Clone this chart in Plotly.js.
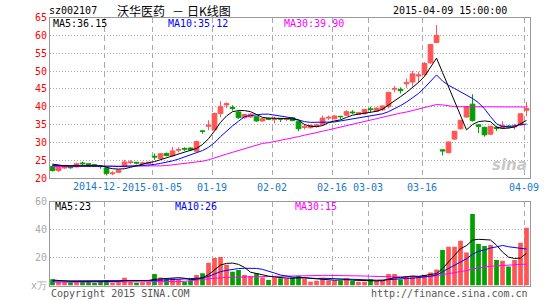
<!DOCTYPE html>
<html><head><meta charset="utf-8">
<script src="https://cdn.plot.ly/plotly-3.0.1.min.js"></script>
<style>html,body{margin:0;padding:0;background:#fff}#chart{width:545px;height:300px}</style>
</head><body><div id="chart"></div>
<script>
const dates = ['2014-12-09','2014-12-10','2014-12-11','2014-12-12','2014-12-15','2014-12-16','2014-12-17','2014-12-18','2014-12-19','2014-12-22','2014-12-23','2014-12-24','2014-12-25','2014-12-26','2014-12-29','2014-12-30','2014-12-31','2015-01-05','2015-01-06','2015-01-07','2015-01-08','2015-01-09','2015-01-12','2015-01-13','2015-01-14','2015-01-15','2015-01-16','2015-01-19','2015-01-20','2015-01-21','2015-01-22','2015-01-23','2015-01-26','2015-01-27','2015-01-28','2015-01-29','2015-01-30','2015-02-02','2015-02-03','2015-02-04','2015-02-05','2015-02-06','2015-02-09','2015-02-10','2015-02-11','2015-02-12','2015-02-13','2015-02-16','2015-02-17','2015-02-25','2015-02-26','2015-02-27','2015-03-02','2015-03-03','2015-03-04','2015-03-05','2015-03-06','2015-03-09','2015-03-10','2015-03-11','2015-03-12','2015-03-13','2015-03-16','2015-03-17','2015-03-18','2015-03-19','2015-03-20','2015-03-23','2015-03-24','2015-03-25','2015-03-26','2015-03-27','2015-03-30','2015-03-31','2015-04-01','2015-04-02','2015-04-03','2015-04-07','2015-04-08','2015-04-09'];
const open = [23.2,22.1,22.8,23.1,23.1,24.2,24.0,23.7,23.4,22.8, 21.2,21.6,23.2,24.3,24.4,24.0,24.1,26.1,25.5,26.9, 26.2,27.8,28.3,28.4,27.5,33.2,34.5,33.5,38.1,40.5, 39.8,38.5,36.9,37.1,37.2,36.0,36.7,36.4,36.7,36.4, 36.9,35.8,34.2,34.1,34.4,34.9,36.8,36.6,37.3,37.6, 38.5,37.9,38.0,39.4,38.7,39.1,40.0,44.9,44.8,46.4, 46.9,48.6,49.0,52.3,58.0,27.9,27.1,30.9,33.8,37.1, 40.7,34.9,34.2,32.3,34.2,33.9,34.5,34.3,34.9,39.0];
const high = [23.8,23.2,23.3,23.3,24.3,24.6,24.1,23.8,23.6,23.0, 21.9,22.4,25.1,25.0,24.5,24.6,24.5,26.9,27.0,27.1, 28.7,28.6,28.6,28.6,30.5,33.3,36.2,38.3,41.5,41.2, 40.4,38.8,38.0,38.2,37.3,36.9,36.9,37.2,36.8,37.0, 37.0,35.9,35.1,35.0,35.2,37.5,37.5,37.6,37.4,39.0, 39.0,38.4,39.4,40.0,39.8,40.3,44.2,45.8,45.4,47.9, 50.0,49.8,52.5,57.6,62.9,28.0,30.2,33.2,36.3,40.2, 43.5,35.0,34.4,34.6,34.6,35.9,34.8,35.2,38.1,41.3];
const low = [21.8,21.7,22.6,22.6,23.0,23.5,23.2,23.4,22.6,20.7, 20.8,21.4,23.0,23.9,23.8,23.7,23.9,25.1,25.2,26.1, 26.0,27.2,27.6,27.7,27.2,32.4,33.4,33.3,37.0,39.6, 38.9,36.6,36.6,36.9,35.8,35.8,36.4,35.3,35.7,35.9, 35.9,33.1,33.6,33.9,34.2,34.8,36.3,36.5,36.5,37.5, 37.9,37.8,37.9,38.4,38.5,38.9,39.5,44.0,43.7,45.3, 45.7,46.6,48.6,52.0,57.8,26.3,26.9,30.7,33.6,36.9, 35.8,32.6,31.6,32.0,33.2,33.7,33.9,33.6,34.6,37.3];
const close = [22.1,23.0,23.1,22.9,24.0,24.0,23.4,23.6,23.2,21.3, 21.4,22.2,24.5,24.5,24.2,24.2,24.4,25.9,26.8,26.3, 27.6,28.0,28.1,27.9,30.2,33.1,34.8,38.1,40.0,40.8, 39.5,36.9,37.8,37.9,36.0,36.6,36.5,36.6,36.5,36.6, 36.1,33.8,34.4,34.7,34.9,36.8,37.0,37.4,37.2,38.6, 38.3,38.3,39.2,39.2,39.6,40.2,44.0,45.1,44.5,46.8, 49.2,48.9,52.1,57.4,60.0,27.6,30.1,33.1,36.2,40.0, 36.1,34.5,32.1,34.5,33.9,34.8,34.3,34.5,38.0,39.5];
const ma5 = [23.9,23.6,23.4,23.4,23.4,23.5,23.5,23.5,23.4,23.0, 22.6,22.5,22.6,23.0,23.5,24.0,24.3,24.6,25.1,25.6, 26.1,26.7,27.2,27.6,28.3,29.4,31.0,33.2,35.6,37.4, 38.6,38.9,38.9,38.6,37.7,37.0,36.8,36.7,36.6,36.6, 36.6,36.2,35.0,34.5,34.4,34.7,35.5,36.0,36.3,37.0, 37.6,37.9,38.2,38.4,38.7,39.3,40.4,41.6,42.8,44.0, 45.3,46.8,48.5,51.0,53.6,49.6,45.6,41.6,37.5,33.5, 35.0,35.8,36.0,35.8,34.3,33.9,34.0,34.3,35.2,36.15];
const ma10 = [23.5,23.5,23.5,23.5,23.5,23.5,23.5,23.5,23.5,23.4, 23.3,23.2,23.2,23.3,23.4,23.5,23.6,23.8,24.1,24.4, 24.8,25.3,25.9,26.4,27.0,27.7,28.6,29.9,31.6,33.2, 34.6,35.9,37.2,37.5,37.8,37.9,37.9,37.7,37.4,37.1, 36.8,36.2,35.8,35.6,35.6,35.6,35.6,35.7,36.0,36.3, 36.6,36.9,37.2,37.4,37.6,38.0,38.6,39.4,40.3,41.3, 42.4,43.7,45.3,47.1,48.9,47.2,46.0,45.1,44.2,43.3, 42.3,41.1,39.4,37.2,35.2,34.4,34.5,34.6,35.0,35.12];
const ma30 = [23.2,23.2,23.2,23.2,23.2,23.2,23.2,23.2,23.2,23.2, 23.2,23.2,23.2,23.2,23.2,23.2,23.2,23.3,23.4,23.5, 23.7,23.9,24.1,24.3,24.4,24.7,25.1,25.7,26.2,26.7, 27.2,27.7,28.3,28.8,29.3,29.7,29.9,30.2,30.5,30.9, 31.3,31.6,32.0,32.3,32.7,33.1,33.5,33.9,34.3,34.7, 35.1,35.5,36.0,36.4,36.8,37.2,37.6,37.9,38.2,38.5, 38.9,39.3,39.7,40.2,40.6,40.5,40.2,40.0,40.0,40.0, 40.0,40.0,40.0,40.0,40.0,40.0,40.0,40.0,40.0,39.9];
const vol = [4.4,2.7,2.5,2.3,2.8,2.5,2.7,2.0,2.6,3.5, 2.0,2.3,5.6,2.5,2.0,2.3,2.5,8.2,5.8,4.4, 5.1,4.4,2.7,3.5,7.5,8.7,16.3,19.6,20.3,14.8, 9.8,11.0,7.5,6.8,8.7,5.8,4.0,5.8,5.1,5.0, 5.8,6.9,5.0,2.7,3.4,5.1,3.6,3.6,3.6,5.1, 3.2,2.7,2.7,4.4,3.4,3.5,8.2,8.2,4.3,6.8, 6.8,6.8,7.5,9.2,11.5,25.4,27.7,27.7,32.0,23.5, 51.1,29.6,28.2,28.9,18.2,17.7,13.5,18.2,30.6,41.3];
const vma5 = [3.9,3.5,3.2,3.0,3.0,3.0,3.0,2.8,2.8,2.8, 2.9,3.0,3.5,3.6,3.6,3.6,3.6,4.4,4.8,5.0, 5.3,5.6,5.2,4.2,4.5,5.5,7.8,11.2,14.6,15.8, 16.0,15.1,12.9,9.5,8.5,7.8,6.7,6.1,5.6,5.3, 5.2,5.6,5.6,5.1,4.7,4.7,4.1,3.8,4.0,4.2, 3.8,3.6,3.4,3.4,3.3,3.4,4.5,5.6,5.6,6.3, 6.8,6.5,7.0,7.5,8.5,12.1,16.9,21.2,26.3,28.5, 32.4,33.0,33.0,32.5,28.8,23.9,20.3,19.3,19.6,23];
const vma10 = [3.2,3.2,3.2,3.2,3.2,3.2,3.2,3.2,3.2,3.4, 3.4,3.4,3.4,3.4,3.4,3.4,3.4,3.6,3.8,4.0, 4.2,4.4,4.5,4.5,5.0,5.4,6.5,8.2,9.9,10.8, 11.6,12.1,12.3,12.3,12.2,11.5,10.4,8.9,7.5,6.6, 6.0,5.8,5.5,5.2,5.0,5.2,5.0,4.7,4.6,4.5, 4.3,4.1,3.8,3.8,3.8,3.9,4.3,4.6,4.6,5.0, 5.2,5.6,6.0,6.6,7.5,9.8,12.2,14.5,17.3,19.1, 22.3,24.4,25.4,26.8,27.6,28.6,27.7,27.1,26.6,26];
const vma30 = [2.4,2.4,2.4,2.4,2.4,2.4,2.5,2.5,2.5,2.5, 2.5,2.5,2.5,2.5,2.5,2.5,2.5,2.5,2.5,2.6, 2.6,2.8,3.0,3.3,3.8,4.3,4.8,5.3,5.6,5.8, 5.9,6.0,6.1,6.2,6.3,6.4,6.6,6.8,7.0,7.1, 7.2,7.2,7.2,7.2,7.2,7.2,7.2,7.2,7.2,7.2, 7.1,7.0,6.8,6.6,6.4,6.3,6.2,6.2,6.2,6.2, 6.2,6.2,6.2,6.5,7.0,7.6,8.4,9.2,10.0,10.6, 11.8,12.5,13.2,13.7,14.0,14.3,14.5,14.7,15.0,15.3];
const gridDates = ['2014-12-22','2015-01-05','2015-01-19','2015-02-02','2015-02-16','2015-03-03','2015-03-16','2015-04-09'];
const gridLabels = ['','2015-01-05','01-19','02-02','02-16','03-03','03-16','04-09'];
const priceTicks = [20,25,30,35,40,45,50,55,60,65];
const volTicks = [0,20,40,60];
const volTickText = ['x万','20','40','60'];

const RED = '#ff5555', GREEN = '#00a000';
const xi = dates.map((d, i) => i);
const gridPos = gridDates.map(d => dates.indexOf(d) - 0.42);
const volColors = close.map((c, i) => c >= open[i] ? RED : GREEN);
const W = 545, H = 300;
const px = x => x / W, py = y => 1 - y / H;
const mono = 'DejaVu Sans Mono, monospace';

const traces = [
  {type:'candlestick', x:xi, open:open, high:high, low:low, close:close, xaxis:'x', yaxis:'y',
   increasing:{line:{color:RED, width:1}, fillcolor:RED},
   decreasing:{line:{color:GREEN, width:1}, fillcolor:GREEN},
   whiskerwidth:0, hoverinfo:'skip'},
  {type:'scatter', mode:'lines', x:xi, y:ma30, line:{color:'#ff00ff', width:1}, xaxis:'x', yaxis:'y', hoverinfo:'skip'},
  {type:'scatter', mode:'lines', x:xi, y:ma10, line:{color:'#0000ff', width:1}, xaxis:'x', yaxis:'y', hoverinfo:'skip'},
  {type:'scatter', mode:'lines', x:xi, y:ma5, line:{color:'#000000', width:1}, xaxis:'x', yaxis:'y', hoverinfo:'skip'},
  {type:'bar', x:xi, y:vol, marker:{color:volColors, line:{width:0}}, xaxis:'x2', yaxis:'y2', hoverinfo:'skip'},
  {type:'scatter', mode:'lines', x:xi, y:vma30, line:{color:'#ff00ff', width:1}, xaxis:'x2', yaxis:'y2', hoverinfo:'skip'},
  {type:'scatter', mode:'lines', x:xi, y:vma10, line:{color:'#0000ff', width:1}, xaxis:'x2', yaxis:'y2', hoverinfo:'skip'},
  {type:'scatter', mode:'lines', x:xi, y:vma5, line:{color:'#000000', width:1}, xaxis:'x2', yaxis:'y2', hoverinfo:'skip'}
];

const xcommon = {
  domain:[px(50), px(530)], range:[-0.42, 79.58], tickmode:'array', tickvals:gridPos,
  showgrid:true, gridcolor:'#aaaaaa', griddash:'5px,4px', gridwidth:1,
  showline:true, mirror:true, linecolor:'#999999', linewidth:1, zeroline:false,
  ticks:'', tickangle:0, fixedrange:true
};
const layout = {
  width:W, height:H, margin:{l:0, r:0, t:0, b:0},
  paper_bgcolor:'#ffffff', plot_bgcolor:'#ffffff', showlegend:false,
  boxgap:0.22, boxgroupgap:0, bargap:0.22,
  xaxis: Object.assign({}, xcommon, {anchor:'y', ticktext:gridLabels, showticklabels:true,
    tickfont:{family:mono, size:10, color:'#1a78c8'}, rangeslider:{visible:false}}),
  xaxis2: Object.assign({}, xcommon, {anchor:'y2', showticklabels:false}),
  yaxis: {domain:[py(178), py(17.5)], range:[20,65], tickmode:'array', tickvals:priceTicks,
    showgrid:true, gridcolor:'#aaaaaa', griddash:'1px,2px', showline:true, mirror:true,
    linecolor:'#999999', zeroline:false, ticks:'', tickfont:{family:mono, size:10, color:'#ff0000'}, fixedrange:true},
  yaxis2: {domain:[py(285.5), py(201.5)], range:[0,60], tickmode:'array', tickvals:volTicks, ticktext:volTickText,
    showgrid:true, gridcolor:'#aaaaaa', griddash:'1px,2px', showline:true, mirror:true,
    linecolor:'#999999', zeroline:false, ticks:'', tickfont:{family:mono, size:10, color:'#aaaaaa'}, fixedrange:true},
  annotations: [
    {text:'sz002107', x:px(48), y:py(11), xanchor:'left', font:{family:mono, size:10, color:'#000'}},
    {text:'沃华医药', x:px(116), y:py(11), xanchor:'left', font:{family:'Noto Sans CJK SC', size:12, color:'#000'}},
    {text:'－', x:px(178), y:py(11), xanchor:'center', font:{family:'Noto Sans CJK SC', size:12, color:'#000'}},
    {text:'日K线图', x:px(186), y:py(11), xanchor:'left', font:{family:'Noto Sans CJK SC', size:12, color:'#000'}},
    {text:'2015-04-09 15:00:00', x:px(508), y:py(11), xanchor:'right', font:{family:mono, size:10, color:'#000'}},
    {text:'MA5:36.15', x:px(52), y:py(24), xanchor:'left', font:{family:mono, size:10, color:'#000'}},
    {text:'MA10:35.12', x:px(167), y:py(24), xanchor:'left', font:{family:mono, size:10, color:'#0000ff'}},
    {text:'MA30:39.90', x:px(283), y:py(24), xanchor:'left', font:{family:mono, size:10, color:'#ff00ff'}},
    {text:'MA5:23', x:px(54), y:py(207), xanchor:'left', font:{family:mono, size:10, color:'#000'}},
    {text:'MA10:26', x:px(174), y:py(207), xanchor:'left', font:{family:mono, size:10, color:'#0000ff'}},
    {text:'MA30:15', x:px(294), y:py(207), xanchor:'left', font:{family:mono, size:10, color:'#ff00ff'}},
    {text:'2014-12-', x:px(122), y:py(186), xanchor:'right', font:{family:mono, size:10, color:'#1a78c8'}},
    {text:'Copyright 2015 SINA.COM', x:px(50), y:py(293), xanchor:'left', font:{family:mono, size:10, color:'#555'}},
    {text:'http://finance.sina.com.cn', x:px(529), y:py(293), xanchor:'right', font:{family:mono, size:10, color:'#555'}},
    {text:'<b><i>sina</i></b>', x:px(528), y:py(165), xanchor:'right', font:{family:'DejaVu Sans', size:15, color:'#c8c8c8'}}
  ].map(a => Object.assign({xref:'paper', yref:'paper', showarrow:false, yanchor:'middle'}, a))
};
layout.annotations.forEach(a => { a.borderpad = 0; });
Plotly.newPlot('chart', traces, layout, {staticPlot:true, displayModeBar:false});
</script></body></html>
